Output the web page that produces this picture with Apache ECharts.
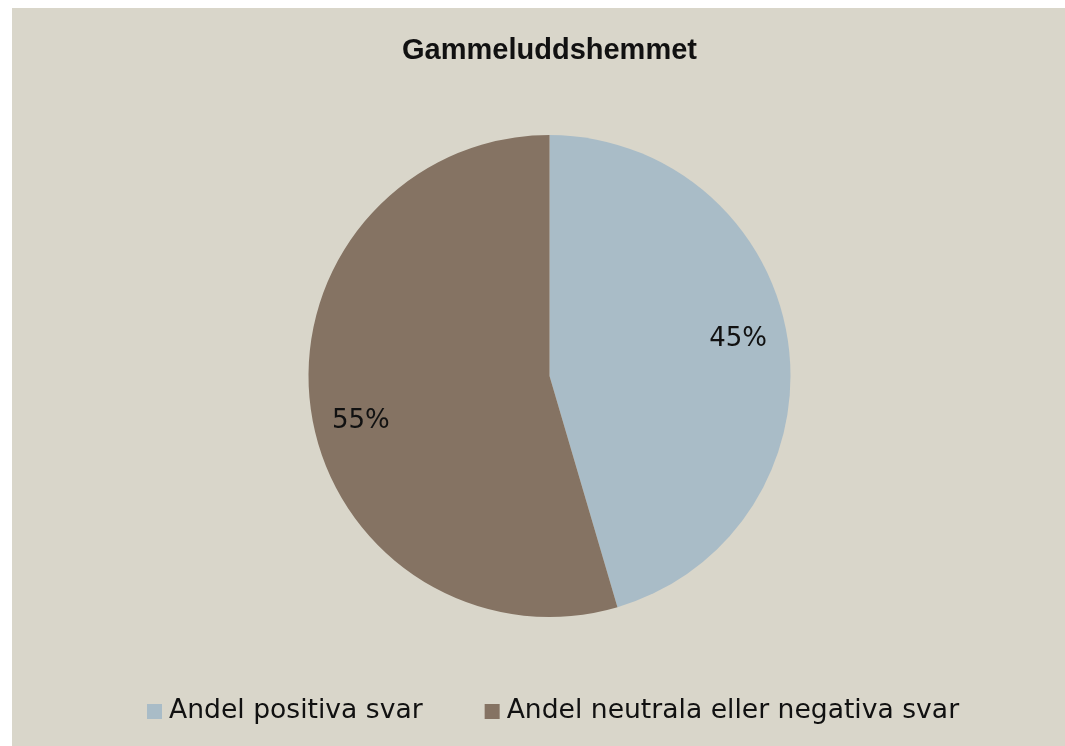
<!DOCTYPE html>
<html>
<head>
<meta charset="utf-8">
<script src="https://cdn.jsdelivr.net/npm/echarts@6/dist/echarts.min.js"></script>
<style>
html,body{margin:0;padding:0;background:#ffffff;}
#chart{position:absolute;left:12px;top:8px;width:1053px;height:738px;}
</style>
</head>
<body>
<div id="chart"></div>
<script>
const titleText = 'Gammeluddshemmet';
const categories = ['Andel positiva svar', 'Andel neutrala eller negativa svar'];
const values = [45.45, 54.55];
const colors = ['#A9BCC7', '#857363'];

const chart = echarts.init(document.getElementById('chart'), null, {renderer: 'canvas'});
const labelFont = '"DejaVu Sans", sans-serif';
const pieData = categories.map((c, i) => ({name: c, value: values[i], itemStyle: {color: colors[i]}}));
const labelData = categories.map((c, i) => ({name: c, value: values[i]}));

chart.setOption({
  backgroundColor: '#D9D6CA',
  animation: false,
  title: {
    text: titleText,
    left: 532.5,
    textAlign: 'center',
    top: 23,
    textStyle: {fontFamily: '"Liberation Sans", Arial, sans-serif', fontWeight: 'bold', fontSize: 29, color: '#111111'}
  },
  legend: {
    data: categories,
    bottom: 16,
    left: 130,
    itemWidth: 15,
    itemHeight: 15,
    itemGap: 62,
    icon: 'rect',
    textStyle: {fontFamily: labelFont, fontSize: 26.6, color: '#111111', padding: [0, 0, 0, 2]},
    selectedMode: false
  },
  series: [
    {
      type: 'pie',
      center: [537.5, 368],
      radius: [0, 241],
      startAngle: 90,
      clockwise: true,
      data: pieData,
      label: {show: false},
      labelLine: {show: false},
      itemStyle: {borderWidth: 0},
      emphasis: {disabled: true},
      silent: true
    },
    {
      type: 'pie',
      center: [537.5, 368],
      radius: [0, 380],
      startAngle: 94,
      clockwise: true,
      data: labelData,
      itemStyle: {color: 'rgba(0,0,0,0)', borderWidth: 0},
      label: {
        show: true,
        position: 'inside',
        formatter: p => Math.round(p.value) + '%',
        fontFamily: labelFont,
        fontSize: 26,
        color: '#111111',
        offset: [0, 4]
      },
      labelLine: {show: false},
      emphasis: {disabled: true},
      silent: true,
      z: 3
    }
  ]
});
</script>
</body>
</html>
